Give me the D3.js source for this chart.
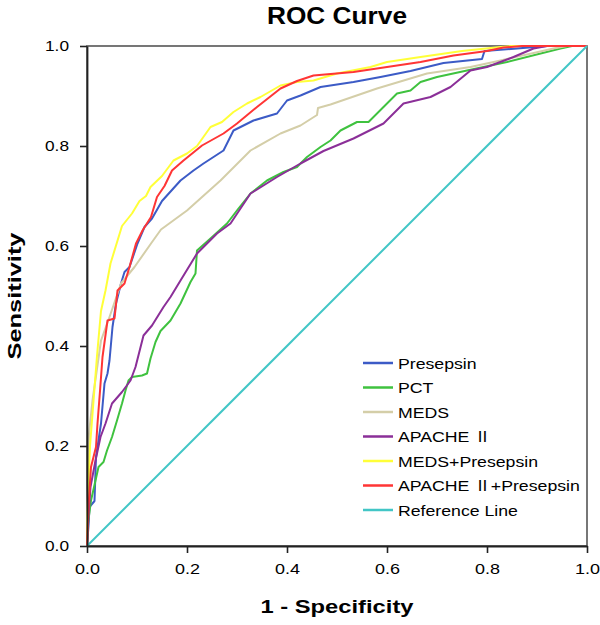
<!DOCTYPE html>
<html>
<head>
<meta charset="utf-8">
<script src="https://cdn.jsdelivr.net/npm/d3@7"></script>
<style>
  html, body { margin: 0; padding: 0; background: #fff; }
  text { font-family: "Liberation Sans", Arial, sans-serif; fill: #000; }
</style>
</head>
<body>
<svg id="chart" width="600" height="625"></svg>
<script>
// ---- Data (1 - Specificity, Sensitivity) ----
const seriesNames = ["Presepsin", "PCT", "MEDS", "APACHE Ⅱ", "MEDS+Presepsin", "APACHE Ⅱ+Presepsin", "Reference Line"];
const seriesColors = ["#3c5bc6", "#3fc23f", "#d4cea8", "#8b2f98", "#ffff38", "#ff3535", "#42c6c6"];

const presepsin = [[0,0],[0.003,0.04],[0.005,0.078],[0.015,0.09],[0.018,0.178],[0.028,0.245],[0.035,0.325],[0.041,0.345],[0.045,0.371],[0.051,0.438],[0.058,0.485],[0.068,0.525],[0.075,0.548],[0.085,0.558],[0.101,0.605],[0.115,0.638],[0.13,0.655],[0.15,0.69],[0.187,0.731],[0.213,0.751],[0.233,0.765],[0.273,0.791],[0.293,0.831],[0.333,0.851],[0.38,0.865],[0.40,0.891],[0.427,0.901],[0.467,0.918],[0.533,0.928],[0.587,0.938],[0.647,0.95],[0.713,0.966],[0.79,0.974],[0.795,0.99],[0.86,0.995],[0.92,1],[1,1]];

const pct = [[0,0],[0,0.031],[0.008,0.091],[0.017,0.131],[0.023,0.158],[0.033,0.168],[0.04,0.191],[0.05,0.218],[0.06,0.251],[0.07,0.285],[0.077,0.311],[0.083,0.331],[0.09,0.338],[0.11,0.341],[0.12,0.345],[0.127,0.375],[0.137,0.408],[0.147,0.43],[0.167,0.451],[0.187,0.485],[0.207,0.528],[0.217,0.545],[0.22,0.591],[0.247,0.615],[0.28,0.645],[0.303,0.675],[0.327,0.705],[0.36,0.731],[0.393,0.748],[0.42,0.758],[0.44,0.778],[0.467,0.798],[0.487,0.811],[0.507,0.831],[0.54,0.848],[0.563,0.848],[0.593,0.878],[0.62,0.905],[0.647,0.911],[0.667,0.928],[0.70,0.938],[0.76,0.951],[0.84,0.968],[0.947,0.995],[0.97,1],[1,1]];

const meds = [[0,0],[0.002,0.12],[0.004,0.225],[0.011,0.291],[0.028,0.411],[0.045,0.458],[0.068,0.525],[0.095,0.558],[0.128,0.605],[0.148,0.633],[0.20,0.671],[0.267,0.731],[0.327,0.791],[0.387,0.825],[0.427,0.841],[0.46,0.862],[0.462,0.876],[0.487,0.883],[0.58,0.915],[0.68,0.945],[0.767,0.958],[0.827,0.971],[0.933,0.995],[0.96,1],[1,1]];

const apache = [[0,0],[0.003,0.06],[0.007,0.118],[0.017,0.171],[0.027,0.218],[0.037,0.245],[0.05,0.285],[0.07,0.308],[0.087,0.331],[0.097,0.358],[0.113,0.421],[0.13,0.441],[0.153,0.478],[0.167,0.498],[0.187,0.531],[0.22,0.585],[0.26,0.625],[0.287,0.645],[0.327,0.705],[0.38,0.738],[0.427,0.765],[0.473,0.79],[0.533,0.815],[0.593,0.845],[0.633,0.885],[0.687,0.898],[0.727,0.918],[0.767,0.951],[0.80,0.958],[0.853,0.978],[0.893,0.995],[0.92,1],[1,1]];

const medsPresepsin = [[0,0],[0.002,0.1],[0.006,0.2],[0.013,0.29],[0.02,0.38],[0.028,0.47],[0.037,0.511],[0.047,0.565],[0.07,0.64],[0.09,0.665],[0.105,0.69],[0.118,0.70],[0.127,0.718],[0.15,0.74],[0.173,0.771],[0.2,0.785],[0.22,0.80],[0.247,0.838],[0.27,0.848],[0.293,0.868],[0.32,0.885],[0.347,0.898],[0.387,0.921],[0.42,0.928],[0.453,0.931],[0.5,0.945],[0.567,0.958],[0.6,0.968],[0.667,0.978],[0.75,0.99],[0.827,0.998],[0.85,1],[1,1]];

const apachePresepsin = [[0,0],[0.003,0.08],[0.008,0.158],[0.018,0.198],[0.021,0.245],[0.026,0.31],[0.031,0.378],[0.041,0.451],[0.055,0.455],[0.061,0.511],[0.075,0.525],[0.085,0.558],[0.098,0.605],[0.111,0.631],[0.128,0.658],[0.14,0.698],[0.155,0.72],[0.17,0.751],[0.193,0.771],[0.23,0.801],[0.273,0.825],[0.30,0.845],[0.34,0.878],[0.387,0.915],[0.42,0.93],[0.453,0.941],[0.533,0.948],[0.6,0.958],[0.667,0.968],[0.733,0.981],[0.8,0.99],[0.833,0.997],[0.87,1],[1,1]];

const referenceLine = [[0,0],[1,1]];

const tickValues = [0, 0.2, 0.4, 0.6, 0.8, 1.0];

const allSeries = [presepsin, pct, meds, apache, medsPresepsin, apachePresepsin, referenceLine];

// ---- Layout ----
const svg = d3.select("#chart");
const plotLeft = 87, plotTop = 46, plotW = 500, plotH = 500;

const x = d3.scaleLinear().domain([0, 1]).range([plotLeft, plotLeft + plotW]);
const y = d3.scaleLinear().domain([0, 1]).range([plotTop + plotH, plotTop]);

// frame
svg.append("rect")
  .attr("x", x(0)).attr("y", y(1))
  .attr("width", x(1) - x(0)).attr("height", y(0) - y(1))
  .attr("fill", "none").attr("stroke", "#555").attr("stroke-width", 1.6);

// curves
const line = d3.line().x(d => x(d[0])).y(d => y(d[1]));
const gLines = svg.append("g");
gLines.selectAll("path")
  .data(allSeries)
  .join("path")
  .attr("d", line)
  .attr("fill", "none")
  .attr("stroke", (d, i) => seriesColors[i])
  .attr("stroke-width", 2)
  .attr("stroke-linejoin", "round");

// axes
const xAxis = svg.append("g")
  .attr("transform", `translate(0,${y(0)})`)
  .call(d3.axisBottom(x).tickValues(tickValues).tickFormat(d3.format(".1f")).tickSizeInner(7).tickSizeOuter(0).tickPadding(10));
const yAxis = svg.append("g")
  .attr("transform", `translate(${x(0)},0)`)
  .call(d3.axisLeft(y).tickValues(tickValues).tickFormat(d3.format(".1f")).tickSizeInner(7).tickSizeOuter(0).tickPadding(11));

[xAxis, yAxis].forEach(g => {
  g.select(".domain").attr("stroke", "#222").attr("stroke-width", 1.8);
  g.selectAll(".tick line").attr("stroke", "#222").attr("stroke-width", 1.6);
  g.selectAll(".tick text")
    .style("font-family", '"Liberation Sans", Arial, sans-serif')
    .style("font-size", "15px")
    .attr("fill", "#000");
});
yAxis.selectAll(".tick text").attr("textLength", 24).attr("lengthAdjust", "spacingAndGlyphs");
xAxis.selectAll(".tick text").attr("textLength", 25).attr("lengthAdjust", "spacingAndGlyphs");

// titles
svg.append("text")
  .attr("x", x(0.5)).attr("y", 24)
  .attr("text-anchor", "middle")
  .attr("font-size", 23).attr("font-weight", "bold")
  .attr("textLength", 140).attr("lengthAdjust", "spacingAndGlyphs")
  .text("ROC Curve");

svg.append("text")
  .attr("x", x(0.5)).attr("y", 613)
  .attr("text-anchor", "middle")
  .attr("font-size", 19).attr("font-weight", "bold")
  .attr("textLength", 153).attr("lengthAdjust", "spacingAndGlyphs")
  .text("1 - Specificity");

svg.append("text")
  .attr("transform", `translate(21,${y(0.5)}) rotate(-90)`)
  .attr("text-anchor", "middle")
  .attr("font-size", 19).attr("font-weight", "bold")
  .attr("textLength", 127).attr("lengthAdjust", "spacingAndGlyphs")
  .text("Sensitivity");

// legend
const legend = svg.append("g").attr("transform", "translate(363,363)");
const items = legend.selectAll("g")
  .data(seriesNames)
  .join("g")
  .attr("transform", (d, i) => `translate(0,${i * 24.5})`);
items.append("line")
  .attr("x1", 0).attr("x2", 30).attr("y1", 0).attr("y2", 0)
  .attr("stroke", (d, i) => seriesColors[i]).attr("stroke-width", 2.5);
items.append("text")
  .attr("transform", "translate(35,5.5) scale(1.18,1)")
  .attr("font-size", 15)
  .each(function(d) {
    const t = d3.select(this);
    d.split(/(Ⅱ)/).filter(s => s.length).forEach(part => {
      const ts = t.append("tspan").text(part);
      if (part === "Ⅱ") ts.style("font-family", '"Noto Sans CJK SC", "DejaVu Sans", sans-serif').attr("font-size", 14);
    });
  });
</script>
</body>
</html>
